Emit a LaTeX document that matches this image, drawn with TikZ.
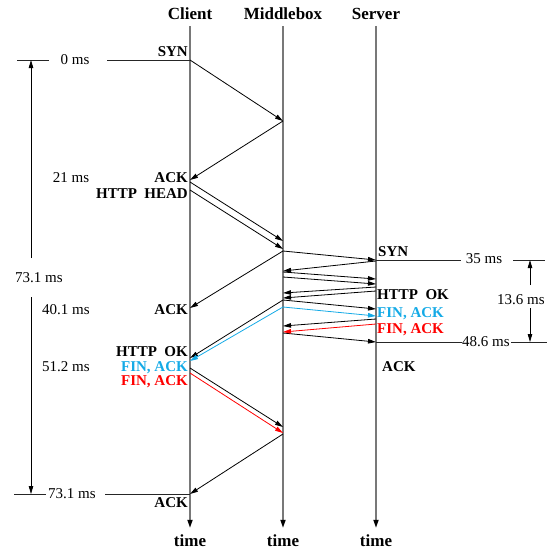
\documentclass[tikz,border=0pt]{standalone}
\usepackage{fontspec}
\setmainfont{Liberation Serif}
\usetikzlibrary{positioning, arrows.meta}
\definecolor{finblue}{RGB}{20, 170, 230}
\definecolor{finred}{RGB}{255, 0, 0}
\definecolor{linegray}{RGB}{120, 120, 120}

\begin{document}
\begin{tikzpicture}[x=1pt, y=-1pt,
    head/.style={font=\fontsize{17}{20}\selectfont\bfseries, inner sep=0pt},
    pkt/.style={font=\fontsize{15}{18}\selectfont\bfseries, inner sep=0pt},
    ms/.style={font=\fontsize{15}{18}\selectfont, inner sep=0pt},
    lifeline/.style={-{Triangle[length=8pt, width=5pt, color=black]}, linegray, line width=1.6pt},
    msg/.style={-{Triangle[length=8pt, width=4.5pt]}, black, line width=0.8pt},
    dim/.style={-{Triangle[length=8pt, width=4.5pt]}, black, line width=0.8pt},
    tick/.style={black!85, line width=0.8pt},
]
\useasboundingbox (0,0) rectangle (550,550);

% --- Lifeline x-positions ---
\def\xC{190}
\def\xM{283}
\def\xS{376}

% ======= HEADERS / LIFELINES =======
\node[head] (client) at (\xC,14) {Client};
\node[head] (mbox)   at (\xM,14) {Middlebox};
\node[head] (server) at (\xS,14) {Server};
\node[head] (tC) at (\xC,541) {time};
\node[head] (tM) at (\xM,541) {time};
\node[head] (tS) at (\xS,541) {time};

\foreach \top/\bot in {client/tC, mbox/tM, server/tS} {
    \draw[lifeline] ([yshift=-6pt]\top.south) -- ([yshift=7pt]\bot.north);
}

% ======= EVENTS =======
% client
\coordinate (C-syn)  at (\xC,60);
\coordinate (C-sa)   at (\xC,180);
\coordinate (C-ack)  at (\xC,182);
\coordinate (C-head) at (\xC,190);
\coordinate (C-hack) at (\xC,308);
\coordinate (C-ok)   at (\xC,358);
\coordinate (C-fin1) at (\xC,361);
\coordinate (C-fack) at (\xC,368);
\coordinate (C-fin2) at (\xC,373);
\coordinate (C-last) at (\xC,494);
% middlebox
\coordinate (M-syn)  at (\xM,121);
\coordinate (M-ack)  at (\xM,241);
\coordinate (M-head) at (\xM,249);
\coordinate (M-fwd)  at (\xM,251);
\coordinate (M-sa)   at (\xM,271);
\coordinate (M-ack2) at (\xM,272);
\coordinate (M-req)  at (\xM,277);
\coordinate (M-ok1)  at (\xM,293);
\coordinate (M-ok2)  at (\xM,298);
\coordinate (M-okf)  at (\xM,300);
\coordinate (M-fin1) at (\xM,307);
\coordinate (M-sack) at (\xM,326);
\coordinate (M-sfin) at (\xM,332);
\coordinate (M-lack) at (\xM,333);
\coordinate (M-cack) at (\xM,427);
\coordinate (M-cfin) at (\xM,433);
\coordinate (M-last) at (\xM,434);
% server
\coordinate (S-syn)  at (\xS,260);
\coordinate (S-sa)   at (\xS,261);
\coordinate (S-ack)  at (\xS,279);
\coordinate (S-req)  at (\xS,284);
\coordinate (S-ok1)  at (\xS,287);
\coordinate (S-ok2)  at (\xS,291);
\coordinate (S-okack) at (\xS,309);
\coordinate (S-fin1) at (\xS,316);
\coordinate (S-fack) at (\xS,319);
\coordinate (S-fin2) at (\xS,324);
\coordinate (S-last) at (\xS,342);

% ======= MESSAGES =======
\foreach \a/\b in {C-syn/M-syn, M-syn/C-sa, C-ack/M-ack, C-head/M-head,
                   M-fwd/S-syn, M-fwd/C-hack, S-sa/M-sa, M-ack2/S-ack,
                   M-req/S-req, S-ok1/M-ok1, S-ok2/M-ok2, M-okf/S-okack,
                   M-okf/C-ok, S-fack/M-sack, M-lack/S-last,
                   C-fack/M-cack, M-last/C-last} {
    \draw[msg] (\a) -- (\b);
}
\draw[msg, finblue] (M-fin1) -- (S-fin1);
\draw[msg, finblue] (M-fin1) -- (C-fin1);
\draw[msg, finred] (S-fin2) -- (M-sfin);
\draw[msg, finred] (C-fin2) -- (M-cfin);

% ======= PACKET LABELS =======
\node[pkt, anchor=east] (l-syn)  at (188,52)  {SYN};
\node[pkt, anchor=east] (l-ack)  at (188,178) {ACK};
\node[pkt, anchor=east] (l-head) at (188,194) {HTTP\ \ HEAD};
\node[pkt, anchor=east] (l-hack) at (188,310) {ACK};
\node[pkt, anchor=east] (l-ok)   at (188,352) {HTTP\ \ OK};
\node[pkt, anchor=east, text=finblue] (l-fin1) at (188,367.5) {FIN, ACK};
\node[pkt, anchor=east, text=finred]  (l-fin2) at (188,382) {FIN, ACK};
\node[pkt, anchor=east] (l-last) at (188,503) {ACK};

\node[pkt, anchor=west] (s-syn)  at (378,252) {SYN};
\node[pkt, anchor=west] (s-ok)   at (377,295) {HTTP\ \ OK};
\node[pkt, anchor=west, text=finblue] (s-fin1) at (377,313.5) {FIN, ACK};
\node[pkt, anchor=west, text=finred]  (s-fin2) at (377,329.5) {FIN, ACK};
\node[pkt, anchor=west] (s-ack)  at (382,367) {ACK};

% ======= TIMES (left) =======
\node[ms] (ms0)   at (75,60)  {0 ms};
\node[ms] (ms21)  at (71,178) {21 ms};
\node[ms] (ms40)  at (66,310) {40.1 ms};
\node[ms] (ms51)  at (66,367) {51.2 ms};
\node[ms] (msTot) at (39,278) {73.1 ms};
\node[ms] (msEnd) at (72,494) {73.1 ms};

\coordinate (L-top) at (31,60);
\coordinate (L-bot) at (31,494);
\coordinate (L-t1)  at (17,60);
\coordinate (L-t2)  at (49,60);
\coordinate (L-0)   at (107,60);
\coordinate (L-b1)  at (14,494);
\coordinate (L-b2)  at (46,494);
\coordinate (L-e)   at (105,494);
\coordinate (L-gu)  at (31,258);
\coordinate (L-gd)  at (31,297);

\draw[tick] (L-t1) -- (L-t2);
\draw[tick] (L-0) -- (C-syn);
\draw[tick] (L-b1) -- (L-b2);
\draw[tick] (L-e) -- (C-last);
\draw[dim] (L-gu) -- (L-top);
\draw[dim] (L-gd) -- (L-bot);

% ======= TIMES (right) =======
\node[ms] (ms35)  at (484,259) {35 ms};
\node[ms] (ms48)  at (486,342) {48.6 ms};
\node[ms] (ms136) at (521,300) {13.6 ms};

\coordinate (R-35a) at (461,260);
\coordinate (R-35b) at (513,260);
\coordinate (R-35c) at (545,260);
\coordinate (R-48a) at (462,342);
\coordinate (R-48b) at (511,342);
\coordinate (R-48c) at (547,342);
\coordinate (R-top) at (530,260);
\coordinate (R-bot) at (530,342);
\coordinate (R-gu)  at (530,285);
\coordinate (R-gd)  at (530,308);

\draw[tick] (S-syn) -- (R-35a);
\draw[tick] (R-35b) -- (R-35c);
\draw[tick] (S-last) -- (R-48a);
\draw[tick] (R-48b) -- (R-48c);
\draw[dim] (R-gu) -- (R-top);
\draw[dim] (R-gd) -- (R-bot);

\end{tikzpicture}
\end{document}
